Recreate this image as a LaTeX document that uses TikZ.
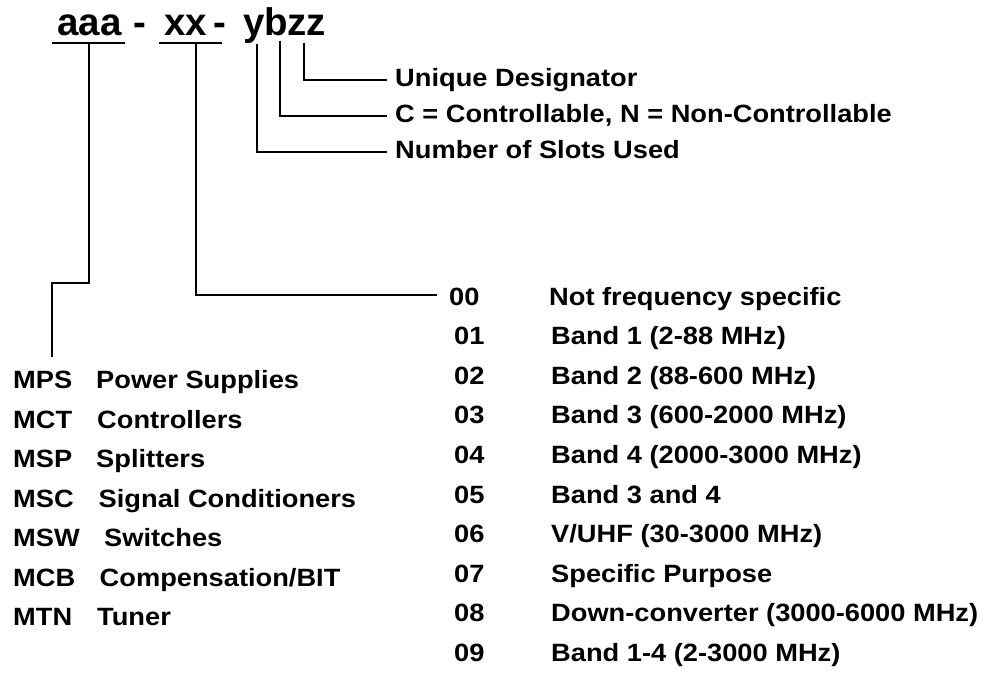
\documentclass[tikz,border=0pt]{standalone}
\usepackage{fontspec}
\setmainfont{Liberation Sans}
\newfontfamily\labfont{Liberation Sans}[FakeStretch=1.09]
\begin{document}
\begin{tikzpicture}[x=1pt,y=-1pt,
  txt/.style={font=\labfont\bfseries\fontsize{25}{28}\selectfont, anchor=base west, inner sep=0pt},
  ttl/.style={font=\bfseries\fontsize{38.5}{42}\selectfont, anchor=base west, inner sep=0pt},
  ln/.style={line width=1.8pt}]
\useasboundingbox (0,0) rectangle (997,677);
% title
\node[ttl] (aaa) at (57,36) {aaa};
\node[ttl] (d1) at (133,36) {-};
\node[ttl] (xx) at (164,36) {xx};
\node[ttl] (d2) at (213,36) {-};
\node[ttl] (y) at (243,36) {y};
\node[ttl] (b) at (264,36) {b};
\node[ttl] (zz) at (287,36) {zz};
% underlines
\draw[ln] (52,43) -- (125,43);
\draw[ln] (159,43) -- (222,43);
% upper labels
\node[txt] (ud) at (395,87) {Unique Designator};
\node[txt] (cn) at (395,123) {C = Controllable, N = Non-Controllable};
\node[txt] (ns) at (395,158) {Number of Slots Used};
\coordinate (zc) at (304,43);
\coordinate (bc) at (280,41);
\coordinate (yc) at (257,44);
\draw[ln] (zc) |- (387,80);
\draw[ln] (bc) |- (387,116);
\draw[ln] (yc) |- (387,152);
% left list
\coordinate (ac) at (89,43);
\draw[ln] (ac) -- (89,283) -- (52,283) -- (52,357);
\node[txt] (mps) at (13,388) {MPS};  \node[txt] (mpsd) at (96,388) {Power Supplies};
\node[txt] (mct) at (13,428) {MCT};  \node[txt] (mctd) at (97,428) {Controllers};
\node[txt] (msp) at (13,467) {MSP};  \node[txt] (mspd) at (96,467) {Splitters};
\node[txt] (msc) at (13,507) {MSC};  \node[txt] (mscd) at (98.5,507) {Signal Conditioners};
\node[txt] (msw) at (13,546) {MSW};  \node[txt] (mswd) at (104,546) {Switches};
\node[txt] (mcb) at (13,586) {MCB};  \node[txt] (mcbd) at (99.5,586) {Compensation/BIT};
\node[txt] (mtn) at (13,625) {MTN};  \node[txt] (mtnd) at (97,625) {Tuner};
% right list
\coordinate (xc) at (196,43);
\draw[ln] (xc) |- (437,295);
\node[txt] (c00) at (449,305) {00}; \node[txt] (t00) at (549,305) {Not frequency specific};
\node[txt] (c01) at (454,344.6) {01}; \node[txt] (t01) at (551,344.6) {Band 1 (2-88 MHz)};
\node[txt] (c02) at (454,384.2) {02}; \node[txt] (t02) at (551,384.2) {Band 2 (88-600 MHz)};
\node[txt] (c03) at (454,423.8) {03}; \node[txt] (t03) at (551,423.8) {Band 3 (600-2000 MHz)};
\node[txt] (c04) at (454,463.4) {04}; \node[txt] (t04) at (551,463.4) {Band 4 (2000-3000 MHz)};
\node[txt] (c05) at (454,503) {05}; \node[txt] (t05) at (551,503) {Band 3 and 4};
\node[txt] (c06) at (454,542.6) {06}; \node[txt] (t06) at (551,542.6) {V/UHF (30-3000 MHz)};
\node[txt] (c07) at (454,582.2) {07}; \node[txt] (t07) at (551,582.2) {Specific Purpose};
\node[txt] (c08) at (454,621.8) {08}; \node[txt] (t08) at (551,621.8) {Down-converter (3000-6000 MHz)};
\node[txt] (c09) at (454,661.4) {09}; \node[txt] (t09) at (551,661.4) {Band 1-4 (2-3000 MHz)};
\end{tikzpicture}
\end{document}
